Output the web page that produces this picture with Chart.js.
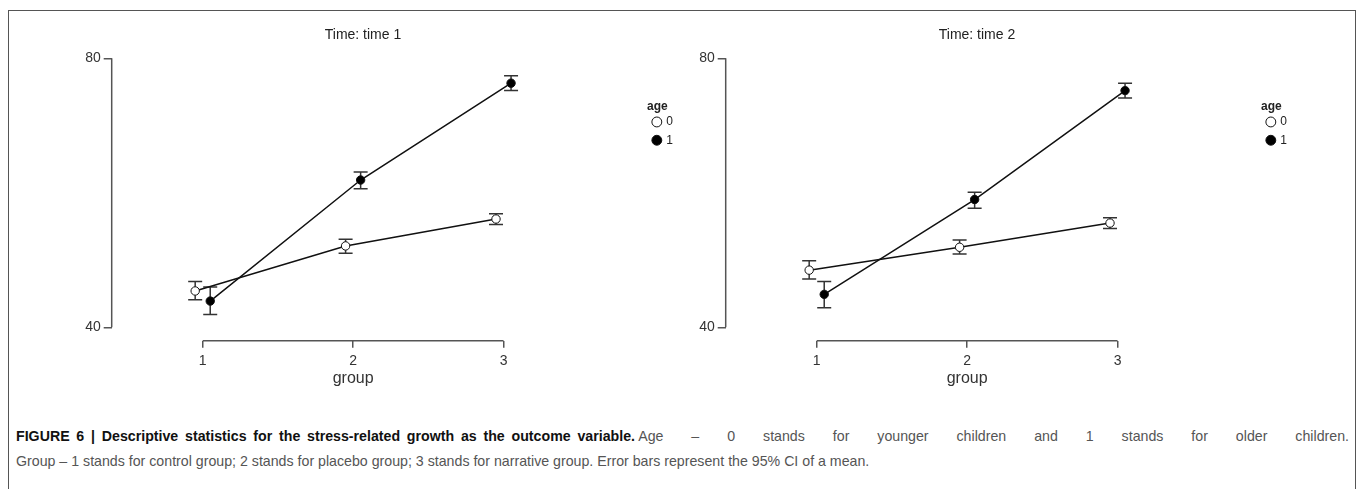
<!DOCTYPE html>
<html>
<head>
<meta charset="utf-8">
<script src="https://cdn.jsdelivr.net/npm/chart.js@4.4.0/dist/chart.umd.min.js"></script>
<style>
  body { margin: 0; background: #fff; font-family: "Liberation Sans", Arial, sans-serif; }
  #page { position: relative; width: 1357px; height: 489px; overflow: hidden; background: #fff; }
  #frame { position: absolute; left: 8px; top: 10px; width: 1346px; height: 500px; border: 1.5px solid #555; border-bottom: none; }
  .panel { position: absolute; top: 0; width: 640px; height: 401px; }
  #caption { position: absolute; left: 16px; top: 424px; font-size: 14.2px; line-height: 25px; color: #555; white-space: nowrap; }
  #caption b { color: #111; }
</style>
</head>
<body>
<div id="page">
  <div id="frame"></div>
  <div class="panel" style="left:43px"><canvas id="time1"></canvas></div>
  <div class="panel" style="left:657px"><canvas id="time2"></canvas></div>
  <div id="caption">
    <div><b id="capBold">FIGURE 6 | Descriptive statistics for the stress-related growth as the outcome variable.</b> <span id="capNorm">Age – 0 stands for younger children and 1 stands for older children.</span></div>
    <div>Group – 1 stands for control group; 2 stands for placebo group; 3 stands for narrative group. Error bars represent the 95% CI of a mean.</div>
  </div>
</div>
<script>
const groups = [1, 2, 3];
const yTicks = [40, 80];

// time 1
const t1Age0 = [45.4, 52.1, 56.1];
const t1Age0Lo = [44.1, 51.0, 55.3];
const t1Age0Hi = [46.8, 53.1, 56.9];
const t1Age1 = [43.9, 61.9, 76.3];
const t1Age1Lo = [41.9, 60.6, 75.2];
const t1Age1Hi = [46.0, 63.1, 77.4];

// time 2
const t2Age0 = [48.5, 51.9, 55.5];
const t2Age0Lo = [47.2, 50.9, 54.7];
const t2Age0Hi = [49.9, 53.0, 56.3];
const t2Age1 = [44.9, 59.0, 75.2];
const t2Age1Lo = [42.9, 57.7, 74.1];
const t2Age1Hi = [46.8, 60.1, 76.3];

const dodge = 0.05;
const axisColor = '#555';
const textColor = '#333';
const font = '"Liberation Sans", Arial, sans-serif';

// caption line 1 is justified in the original: spread words to the frame
function spread(el, right) {
  const spaces = (el.textContent.match(/ /g) || []).length;
  const gap = right - el.getBoundingClientRect().right;
  el.style.wordSpacing = (gap / spaces) + 'px';
}
spread(document.getElementById('capBold'), 635);
spread(document.getElementById('capNorm'), 1349);

const errorBars = {
  id: 'errorBars',
  afterLayout(chart) {
    // the legend sits lower than the top of the plot
    const lg = chart.legend;
    lg.top += 100.3;
    lg.bottom += 100.3;
  },
  beforeDatasetsDraw(chart) {
    const { ctx, scales: { x, y } } = chart;
    ctx.save();
    ctx.strokeStyle = '#333';
    ctx.lineWidth = 1.5;
    chart.data.datasets.forEach(ds => {
      ds.data.forEach((p, i) => {
        const px = x.getPixelForValue(p.x);
        const lo = y.getPixelForValue(ds.errLo[i]);
        const hi = y.getPixelForValue(ds.errHi[i]);
        ctx.beginPath();
        ctx.moveTo(px, lo); ctx.lineTo(px, hi);
        ctx.moveTo(px - 7, lo); ctx.lineTo(px + 7, lo);
        ctx.moveTo(px - 7, hi); ctx.lineTo(px + 7, hi);
        ctx.stroke();
      });
    });
    ctx.restore();
  },
  afterDraw(chart) {
    const { ctx, chartArea, scales: { x, y } } = chart;
    ctx.save();
    ctx.strokeStyle = axisColor;
    ctx.lineWidth = 1.5;
    ctx.beginPath();
    ctx.moveTo(chartArea.left, y.getPixelForValue(yTicks[1]));
    ctx.lineTo(chartArea.left, y.getPixelForValue(yTicks[0]));
    ctx.moveTo(x.getPixelForValue(groups[0]), chartArea.bottom);
    ctx.lineTo(x.getPixelForValue(groups[groups.length - 1]), chartArea.bottom);
    ctx.stroke();
    ctx.fillStyle = textColor;
    ctx.font = '16px ' + font;
    ctx.textAlign = 'center';
    ctx.textBaseline = 'middle';
    ctx.fillText('group', x.getPixelForValue(groups[1]), chartArea.bottom + 38);
    ctx.restore();
  }
};

function series(label, means, lo, hi, offset, fill) {
  return {
    label,
    data: groups.map((g, i) => ({ x: g + offset, y: means[i] })),
    errLo: lo,
    errHi: hi,
    borderColor: '#111',
    backgroundColor: fill,
    pointBackgroundColor: fill,
    pointBorderColor: '#111',
    pointRadius: 4.2,
    pointBorderWidth: 1,
    borderWidth: 1.5,
    fill: false,
    tension: 0
  };
}

function makeChart(id, title, a0, a0lo, a0hi, a1, a1lo, a1hi) {
  new Chart(document.getElementById(id), {
    type: 'line',
    data: {
      datasets: [
        series('0', a0, a0lo, a0hi, -dodge, '#fff'),
        series('1', a1, a1lo, a1hi, dodge, '#000')
      ]
    },
    options: {
      responsive: true,
      maintainAspectRatio: false,
      animation: false,
      devicePixelRatio: 1,
      layout: { padding: 0 },
      plugins: {
        tooltip: { enabled: false },
        title: {
          display: true,
          text: title,
          color: '#222',
          font: { family: font, size: 14, weight: 'normal', lineHeight: 1.2 },
          padding: { top: 26.6, bottom: 1.45 }
        },
        legend: {
          position: 'right',
          align: 'start',
          title: {
            display: true,
            text: 'age',
            position: 'start',
            color: '#222',
            font: { family: font, size: 12, weight: 'bold', lineHeight: 0.78 },
            padding: 0
          },
          labels: {
            usePointStyle: true,
            pointStyle: 'circle',
            boxWidth: 7,
            boxHeight: 7,
            padding: 6.3,
            color: '#222',
            font: { family: font, size: 12 }
          }
        }
      },
      scales: {
        x: {
          type: 'linear',
          min: 0.395,
          max: 3.954,
          afterFit: s => { s.height = 60.25; },
          afterBuildTicks: s => { s.ticks = groups.map(v => ({ value: v })); },
          ticks: { color: textColor, font: { family: font, size: 14 }, padding: 5 },
          grid: { drawOnChartArea: false, tickLength: 7, color: axisColor, lineWidth: 1.5 },
          border: { display: false }
        },
        y: {
          min: 38,
          max: 82,
          afterFit: s => { s.width = 68.7; },
          afterBuildTicks: s => { s.ticks = yTicks.map(v => ({ value: v })); },
          ticks: { color: textColor, font: { family: font, size: 14 }, padding: 3 },
          grid: { drawOnChartArea: false, tickLength: 8, color: axisColor, lineWidth: 1.5 },
          border: { display: false }
        }
      }
    },
    plugins: [errorBars]
  });
}

makeChart('time1', 'Time: time 1', t1Age0, t1Age0Lo, t1Age0Hi, t1Age1, t1Age1Lo, t1Age1Hi);
makeChart('time2', 'Time: time 2', t2Age0, t2Age0Lo, t2Age0Hi, t2Age1, t2Age1Lo, t2Age1Hi);
</script>
</body>
</html>
